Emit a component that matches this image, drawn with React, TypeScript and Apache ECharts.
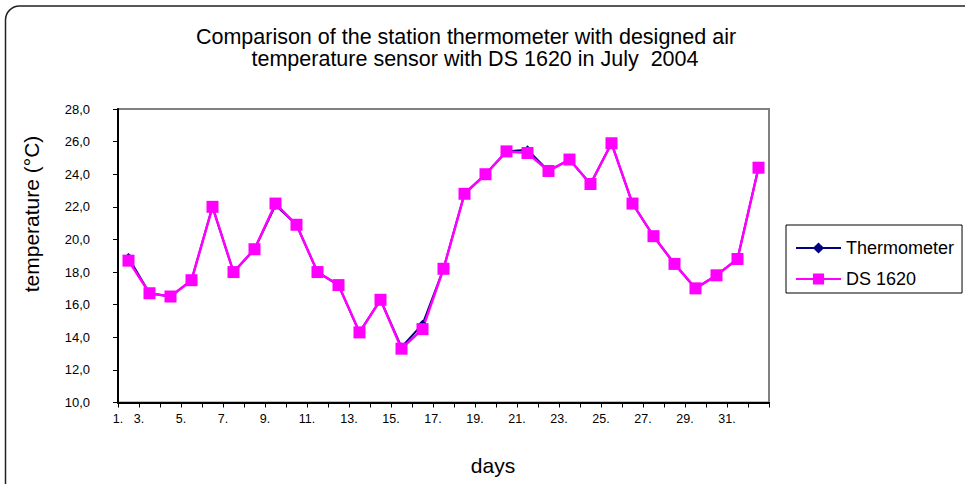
import React, { useEffect, useRef } from "react";
import * as echarts from "echarts";

const days = ["1.", "2.", "3.", "4.", "5.", "6.", "7.", "8.", "9.", "10.", "11.", "12.", "13.", "14.", "15.", "16.", "17.", "18.", "19.", "20.", "21.", "22.", "23.", "24.", "25.", "26.", "27.", "28.", "29.", "30.", "31."];
const thermometer = [18.9, 16.7, 16.5, 17.5, 22.0, 18.0, 19.4, 22.1, 20.9, 18.0, 17.2, 14.3, 16.3, 13.4, 14.8, 18.2, 22.8, 24.0, 25.4, 25.5, 24.2, 24.9, 23.4, 25.9, 22.2, 20.2, 18.5, 17.0, 17.8, 18.8, 24.4];
const ds1620 = [18.7, 16.7, 16.5, 17.5, 22.0, 18.0, 19.4, 22.2, 20.9, 18.0, 17.2, 14.3, 16.3, 13.3, 14.5, 18.2, 22.8, 24.0, 25.4, 25.3, 24.2, 24.9, 23.4, 25.9, 22.2, 20.2, 18.5, 17.0, 17.8, 18.8, 24.4];
const yTicks = { min: 10, max: 28, step: 2 };
const titleLines = ["Comparison of the station thermometer with designed air", "temperature sensor with DS 1620 in July  2004"];

const FONT = "'Liberation Sans', Arial, Helvetica, sans-serif";

export default function App() {
  const ref = useRef<HTMLDivElement>(null);
  useEffect(() => {
    document.body.style.margin = "0";
    const chart = echarts.init(ref.current!, null, { renderer: "svg" });
    chart.setOption({
      animation: false,
      backgroundColor: "#ffffff",
      textStyle: { fontFamily: FONT },
      grid: {
        left: 118,
        top: 109,
        right: 196,
        bottom: 81.5,
        show: true,
        borderColor: "#808080",
        borderWidth: 2,
        backgroundColor: "#ffffff",
      },
      graphic: [
        {
          type: "rect",
          shape: { x: 5.5, y: 6, width: 985, height: 495, r: 14 },
          style: { fill: "none", stroke: "#222", lineWidth: 1.5 },
          z: -1,
        },
        {
          type: "text",
          x: 466,
          y: 37,
          style: { text: titleLines[0], font: `21.5px ${FONT}`, fill: "#000", align: "center", verticalAlign: "middle" },
        },
        {
          type: "text",
          x: 475,
          y: 59,
          style: { text: titleLines[1], font: `21.5px ${FONT}`, fill: "#000", align: "center", verticalAlign: "middle" },
        },
        {
          type: "text",
          x: 31,
          y: 214,
          rotation: Math.PI / 2,
          style: { text: "temperature (°C)", font: `21px ${FONT}`, fill: "#000", align: "center", verticalAlign: "middle" },
        },
        {
          type: "text",
          x: 493,
          y: 465,
          style: { text: "days", font: `21px ${FONT}`, fill: "#000", align: "center", verticalAlign: "middle" },
        },
      ],
      legend: {
        orient: "vertical",
        left: 786,
        top: 225,
        padding: [14, 8, 5, 9],
        itemGap: 13,
        itemWidth: 45,
        itemHeight: 14,
        borderColor: "#000",
        borderWidth: 1,
        textStyle: { fontSize: 18, color: "#000", fontFamily: FONT },
        data: ["Thermometer", "DS 1620"],
      },
      xAxis: [
        {
          type: "category",
          data: days,
          boundaryGap: true,
          axisLine: { lineStyle: { color: "#000", width: 2 } },
          axisTick: { show: true, interval: 0, length: 5, lineStyle: { color: "#000", width: 1 } },
          axisLabel: { show: false },
          splitLine: { show: false },
        },
        {
          type: "value",
          min: 0,
          max: 31,
          interval: 1,
          position: "bottom",
          axisLine: { show: false },
          axisTick: { show: false },
          splitLine: { show: false },
          axisLabel: {
            margin: 10,
            fontSize: 12.5,
            color: "#000",
            fontFamily: FONT,
            formatter: (v: number) => (v === 0 ? "1." : v % 2 === 1 && v <= 29 ? `${v + 2}.` : ""),
          },
        },
      ],
      yAxis: {
        type: "value",
        min: yTicks.min,
        max: yTicks.max,
        interval: yTicks.step,
        axisLine: { show: true, lineStyle: { color: "#000", width: 2 } },
        axisTick: { show: true, length: 5, lineStyle: { color: "#000", width: 1 } },
        splitLine: { show: false },
        axisLabel: {
          margin: 28,
          fontSize: 13,
          color: "#000",
          fontFamily: FONT,
          formatter: (v: number) => v.toFixed(1).replace(".", ","),
        },
      },
      series: [
        {
          name: "Thermometer",
          type: "line",
          data: thermometer,
          xAxisIndex: 0,
          symbol: "diamond",
          symbolSize: 9,
          itemStyle: { color: "#000080" },
          lineStyle: { color: "#000080", width: 2 },
        },
        {
          name: "DS 1620",
          type: "line",
          data: ds1620,
          xAxisIndex: 0,
          symbol: "rect",
          symbolSize: 12,
          itemStyle: { color: "#FF00FF" },
          lineStyle: { color: "#FF00FF", width: 2.5 },
        },
      ],
    });
    return () => chart.dispose();
  }, []);
  return <div ref={ref} style={{ width: 965, height: 484 }} />;
}
